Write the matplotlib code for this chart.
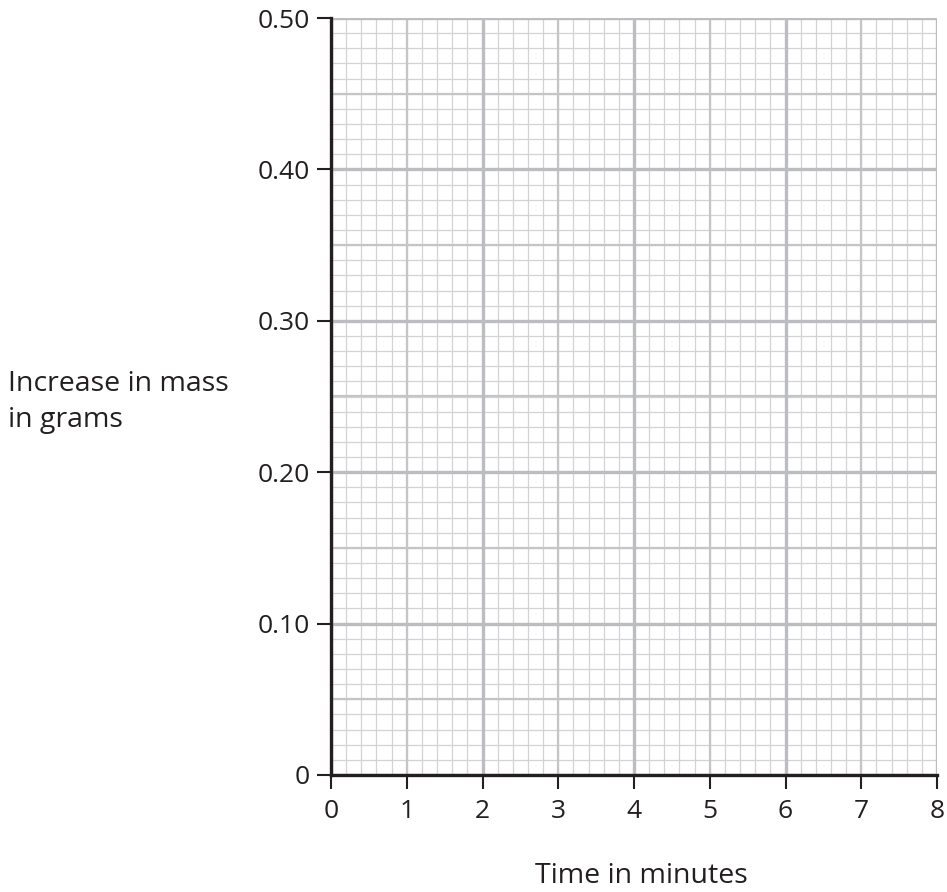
import matplotlib
matplotlib.use("Agg")
import matplotlib.pyplot as plt
import numpy as np

x_ticks = [0, 1, 2, 3, 4, 5, 6, 7, 8]
x_tick_labels = ["0", "1", "2", "3", "4", "5", "6", "7", "8"]
y_ticks = [0, 0.10, 0.20, 0.30, 0.40, 0.50]
y_tick_labels = ["0", "0.10", "0.20", "0.30", "0.40", "0.50"]
x_label = "Time in minutes"
y_label = "Increase in mass\nin grams"

plt.rcParams['font.family'] = ['Open Sans', 'DejaVu Sans']

fig = plt.figure(figsize=(9.47, 8.92), dpi=100)
ax = fig.add_axes([331/947, 117/892, 606/947, 757/892])
ax.set_xlim(0, 8)
ax.set_ylim(0, 0.5)

minor_c = "#d2d3d5"
mid_c = "#c4c5c7"
major_c = "#bcbdc0"

# minor grid
for xv in np.arange(0, 8.0001, 0.2):
    ax.axvline(xv, color=minor_c, lw=0.9, zorder=1)
for yv in np.arange(0, 0.50001, 0.01):
    ax.axhline(yv, color=minor_c, lw=0.9, zorder=1)
# medium grid
for xv in np.arange(1, 8.0001, 2):
    ax.axvline(xv, color=mid_c, lw=1.6, zorder=2)
for yv in np.arange(0.05, 0.50001, 0.1):
    ax.axhline(yv, color=mid_c, lw=1.6, zorder=2)
# major grid
for xv in np.arange(0, 8.0001, 2):
    ax.axvline(xv, color=major_c, lw=2.4, zorder=3)
for yv in np.arange(0, 0.50001, 0.1):
    ax.axhline(yv, color=major_c, lw=2.4, zorder=3)

for s in ["top", "right"]:
    ax.spines[s].set_visible(False)
for s in ["left", "bottom"]:
    ax.spines[s].set_linewidth(2.4)
    ax.spines[s].set_color("#231f20")
    ax.spines[s].set_zorder(5)

ax.set_xticks(x_ticks)
ax.set_xticklabels(x_tick_labels)
ax.set_yticks(y_ticks)
ax.set_yticklabels(y_tick_labels)
ax.tick_params(axis="both", direction="out", length=10, width=1.5, color="#231f20",
               labelsize=19, labelcolor="#231f20")
ax.tick_params(axis="x", pad=7)
ax.tick_params(axis="y", pad=5)

fig.text(8/947, 1 - 402/892, y_label, ha="left", va="center", fontsize=20.5,
         color="#231f20", linespacing=1.38)
fig.text(641/947, 1 - 876/892, x_label, ha="center", va="center", fontsize=20.5,
         color="#231f20")

fig.savefig("out.png", dpi=100)
